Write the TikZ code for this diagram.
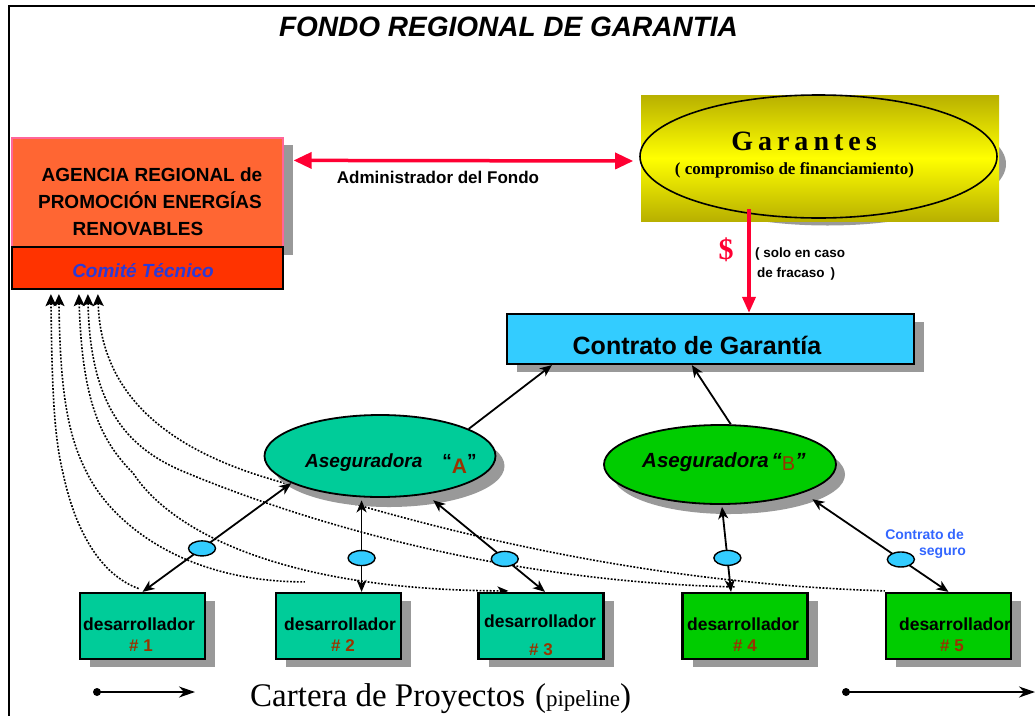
\documentclass[tikz,border=0pt]{standalone}
\usepackage{fontspec}
\setmainfont{Liberation Serif}
\setsansfont{Liberation Sans}
\usetikzlibrary{arrows.meta,shapes.geometric,calc,shadows,backgrounds}
\definecolor{shadowgray}{HTML}{999999}
\definecolor{agorange}{HTML}{FF6633}
\definecolor{agpink}{HTML}{FF6699}
\definecolor{comitered}{HTML}{FF3300}
\definecolor{comiteblue}{HTML}{2B3BD6}
\definecolor{redline}{HTML}{FF0033}
\definecolor{olivey}{HTML}{B8B000}
\definecolor{brightyellow}{HTML}{FFFF00}
\definecolor{contratoblue}{HTML}{33CCFF}
\definecolor{asegAcol}{HTML}{00CC99}
\definecolor{asegBcol}{HTML}{00CC00}
\definecolor{brownnum}{HTML}{993300}
\definecolor{seguroblue}{HTML}{3366FF}
\newcommand\fsz[2]{\fontsize{#1}{#2}\selectfont}
\begin{document}
\begin{tikzpicture}[x=1pt,y=-1pt,
  >={Stealth[length=12pt,width=10pt,inset=3.5pt]},
  shbox/.style={draw=black, line width=2.2pt, inner sep=0pt,
    drop shadow={shadow xshift=10pt,shadow yshift=-8pt,fill=shadowgray,opacity=1}},
  dbox/.style={shbox, minimum width=125pt, minimum height=66pt},
  conn/.style={line width=1.8pt, black},
  redarr/.style={line width=3.5pt, redline},
  dotc/.style={line width=1.6pt, dash pattern=on 1.8pt off 1.6pt},
  uptip/.style={{Stealth[length=12pt,width=11pt,inset=2.5pt]}-},
  blueov/.style={ellipse, draw, line width=1.4pt, fill=contratoblue,
    minimum width=27pt, minimum height=15pt, inner sep=0pt},
  sans/.style={font=\sffamily\bfseries},
  aseg/.style={ellipse, draw, line width=1.8pt, inner sep=0pt,
    drop shadow={shadow xshift=9pt,shadow yshift=-10pt,fill=shadowgray,opacity=1}},
  ]
\useasboundingbox (0,0) rectangle (1035,715);

% frame
\draw[line width=2.2pt] (9,716) -- (9,6) -- (1036,6);

% title
\node[sans, anchor=base] (title) at (508.5,36) {\fsz{28}{30}\itshape FONDO REGIONAL DE GARANTIA};

% Agencia
\fill[shadowgray] (283,145) rectangle (293,255);
\node[draw=agpink, line width=1.2pt, fill=agorange, minimum width=271pt, minimum height=109pt, inner sep=0pt] (agencia) at (147.5,192.5) {};
\node[draw, line width=2.2pt, fill=comitered, minimum width=271pt, minimum height=42pt, inner sep=0pt] (comite) at (147.5,268) {};
\node[sans, anchor=base] (ag1) at (152,181) {\fsz{19}{22}AGENCIA REGIONAL de};
\node[sans, anchor=base] (ag2) at (150,208) {\fsz{19}{22}PROMOCIÓN ENERGÍAS};
\node[sans, anchor=base] (ag3) at (138,235) {\fsz{19}{22}RENOVABLES};
\node[sans, anchor=base, text=comiteblue] (comtext) at (143,277) {\fsz{19}{22}\itshape Comité Técnico};

% Garantes
\node[ellipse, fill=shadowgray, minimum width=357pt, minimum height=123pt, inner sep=0pt] (garsh) at (827.5,164) {};
\node[inner sep=0pt, minimum width=358pt, minimum height=126pt, top color=olivey, bottom color=olivey, middle color=brightyellow] (garrect) at (820,158) {};
\node[ellipse, draw, line width=1.6pt, minimum width=357pt, minimum height=123pt, inner sep=0pt] (garell) at (818.5,156.5) {};
\node[anchor=base] (gartitle) at (804,150) {\bfseries\fsz{28}{30}G\kern5pt a\kern5pt r\kern5pt a\kern5pt n\kern5pt t\kern5pt e\kern5pt s};
\node[anchor=base] (garsub) at (794.5,174) {\bfseries\fsz{17}{20}( compromiso de financiamiento)};

% Administrador arrow
\coordinate (admL) at ($(agencia.north east)+(10,23)$);
\coordinate (admR) at ($(garell.west)+(-6,4.5)$);
\draw[redarr, {Triangle[length=18pt,width=16pt]}-{Triangle[length=18pt,width=16pt]}] (admL) -- (admR);
\node[sans, anchor=base] (admtext) at (438,183) {\fsz{17}{20}Administrador del Fondo};

% Contrato de Garantia
\node[shbox, fill=contratoblue, minimum width=407pt, minimum height=50pt] (contrato) at (710.5,339) {};
\node[sans, anchor=base] (context) at (697,354) {\fsz{25}{28}Contrato de Garantía};

% red vertical
\coordinate (garbot) at (749,209);
\draw[redarr, -{Triangle[length=16pt,width=13pt]}] (garbot) -- (garbot |- contrato.north);
\node[text=redline] (dollar) at (726,250) {\bfseries\fsz{30}{32}\$};
\node[sans, anchor=base west, inner sep=0pt] (solo1) at (755,257) {\fsz{13.5}{16}( solo en caso};
\node[sans, anchor=base west, inner sep=0pt] (solo2) at (757,277) {\fsz{13.5}{16}de fracaso\hspace{6pt})};

% Aseguradoras
\node[aseg, fill=asegAcol, minimum width=231pt, minimum height=82pt] (asegA) at (380,456) {};
\node[aseg, fill=asegBcol, minimum width=232pt, minimum height=79pt] (asegB) at (720,464.5) {};
\node[anchor=base west, inner sep=0pt, font=\sffamily\bfseries] (asegAt) at (305,467) {\fsz{19}{22}\itshape Aseguradora\hspace{20pt}\upshape “\raisebox{-6pt}{\fsz{21}{24}\color{brownnum}A}”};
\node[anchor=base west, inner sep=0pt, font=\sffamily\bfseries] (asegBt) at (642,467) {\fsz{20.5}{24}\itshape Aseguradora\hspace{3pt}“\raisebox{-3pt}{\upshape\mdseries\fsz{20}{24}\color{brownnum}B}”};

% desarrolladores
\node[dbox, fill=asegAcol] (d1) at (142.5,626) {};
\node[dbox, fill=asegAcol] (d2) at (338.5,626) {};
\node[dbox, fill=asegAcol] (d3) at (541,626) {};
\node[dbox, fill=asegBcol] (d4) at (745,626) {};
\node[dbox, fill=asegBcol] (d5) at (948.5,626) {};
\node[sans, anchor=base] (d1a) at (139,630) {\fsz{17.5}{20}desarrollador};
\node[sans, anchor=base, text=brownnum] (d1b) at (141,651) {\fsz{17}{20}\# 1};
\node[sans, anchor=base] (d2a) at (340,630) {\fsz{17.5}{20}desarrollador};
\node[sans, anchor=base, text=brownnum] (d2b) at (343,651) {\fsz{17}{20}\# 2};
\node[sans, anchor=base] (d3a) at (540,627) {\fsz{17.5}{20}desarrollador};
\node[sans, anchor=base, text=brownnum] (d3b) at (541,655) {\fsz{17}{20}\# 3};
\node[sans, anchor=base] (d4a) at (743,630) {\fsz{17.5}{20}desarrollador};
\node[sans, anchor=base, text=brownnum] (d4b) at (745,651) {\fsz{17}{20}\# 4};
\node[sans, anchor=base] (d5a) at (955,630) {\fsz{17.5}{20}desarrollador};
\node[sans, anchor=base, text=brownnum] (d5b) at (952,651) {\fsz{17}{20}\# 5};

% connectors aseguradora - desarrollador
\draw[conn, <->] (asegA.197) -- node[blueov, pos=.6] (o1) {} (d1.north);
\draw[conn, <->] ($(asegA.246)+(0,3)$) -- node[blueov, pos=.63] (o2) {} (d2.north -| asegA.246);
\draw[conn, <->] ($(asegA.-35)+(0,7)$) -- node[blueov, pos=.64] (o3) {} ($(d3.north)+(4,0)$);
\draw[conn, <->] ($(asegB.south)+(2,2)$) -- node[blueov, pos=.6] (o4) {} ($(d4.north)+(-14,0)$);
\draw[conn, <->] ($(asegB.-15)+(0,10)$) -- node[blueov, pos=.65] (o5) {} (d5.north);
\node[sans, anchor=base east, inner sep=0pt, text=seguroblue] (seg1) at (964,539) {\fsz{14}{16}Contrato de};
\node[sans, anchor=base east, inner sep=0pt, text=seguroblue] (seg2) at (966,555) {\fsz{14}{16}seguro};

% aseguradoras - contrato
\draw[conn, ->] (asegA.17) -- ($(contrato.south west)+(46,0)$);
\draw[conn, ->] (asegB.75) -- ($(contrato.south west)+(186,0)$);

% dotted curves (background)
\begin{pgfonlayer}{background}
\coordinate (c1s) at ($(comite.south west)+(40,4)$);
\coordinate (c2s) at ($(comite.south west)+(48,4)$);
\coordinate (c3s) at ($(comite.south west)+(68,4)$);
\coordinate (c4s) at ($(comite.south west)+(77,4)$);
\coordinate (c5s) at ($(comite.south west)+(87,4)$);
\draw[dotc, uptip] (c1s) .. controls (52,400) and (55,440) .. (63,473) .. controls (75,530) and (100,575) .. ($(d1.north)+(-3,-3)$);
\draw[dotc, uptip] (c2s) .. controls (60,400) and (70,440) .. (87,473) .. controls (110,520) and (180,582) .. ($(d2.north west)+(30,-10)$);
\draw[dotc, {Stealth[length=12pt,width=11pt,inset=2.5pt]}-{Stealth[length=11pt,width=9pt,inset=3pt]}] (c3s) .. controls (82,400) and (100,440) .. (133,473) .. controls (170,530) and (280,590) .. ($(d3.north west)+(31,-1)$);
\draw[dotc, uptip] (c4s) .. controls (90,410) and (130,450) .. (187,473) .. controls (300,520) and (500,582) .. ($(d4.north)+(-10,-5)$);
\draw[dotc, uptip] (c5s) .. controls (101,400) and (175,450) .. (267,478) .. controls (380,512) and (600,582) .. ($(d5.north west)+(0,-1)$);
\end{pgfonlayer}

% bottom
\node[circle, fill, inner sep=0pt, minimum size=8pt] (dotL) at (97,692) {};
\coordinate (tipL) at (195,692);
\draw[line width=1.6pt, -{Stealth[length=16pt,width=11pt,inset=5pt]}] (dotL.center) -- (tipL);
\node[circle, fill, inner sep=0pt, minimum size=8pt] (dotR) at (846,692) {};
\coordinate (tipR) at (1035,692);
\draw[line width=1.6pt, -{Stealth[length=16pt,width=11pt,inset=5pt]}] (dotR.center) -- (tipR);
\node[anchor=base west, inner sep=0pt] (cartera) at (250,706) {\fsz{33}{36}Cartera de Proyectos\hspace{10pt}(\fsz{23}{26}pipeline\fsz{33}{36})};
\end{tikzpicture}
\end{document}
